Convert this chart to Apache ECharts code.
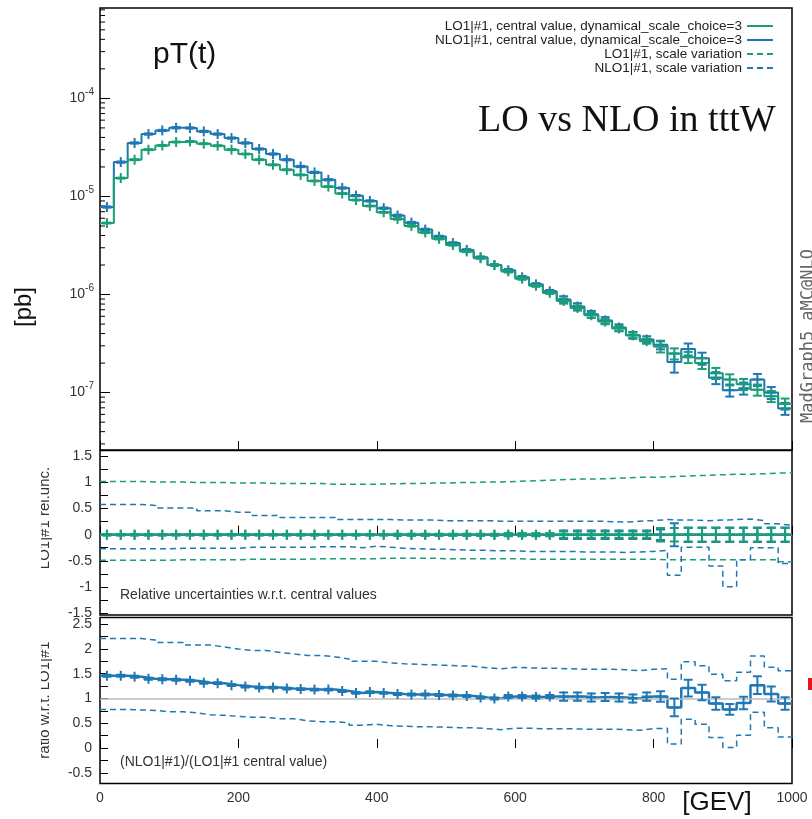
<!DOCTYPE html>
<html><head><meta charset="utf-8">
<script src="https://cdn.jsdelivr.net/npm/echarts@6/dist/echarts.min.js"></script>
<style>html,body{margin:0;padding:0;background:#fff}#chart{width:812px;height:819px}</style>
</head><body><div id="chart"></div>
<script>
// ---- data ----
const binEdges = [0,20,40,60,80,100,120,140,160,180,200,220,240,260,280,300,320,340,360,380,400,420,440,460,480,500,520,540,560,580,600,620,640,660,680,700,720,740,760,780,800,820,840,860,880,900,920,940,960,980,1000];
const binCenters = [10,30,50,70,90,110,130,150,170,190,210,230,250,270,290,310,330,350,370,390,410,430,450,470,490,510,530,550,570,590,610,630,650,670,690,710,730,750,770,790,810,830,850,870,890,910,930,950,970,990];

const loCentral = [5.36e-6,1.54e-5,2.37e-5,3.0e-5,3.31e-5,3.59e-5,3.64e-5,3.45e-5,3.29e-5,3.0e-5,
  2.71e-5,2.37e-5,2.1e-5,1.87e-5,1.66e-5,1.44e-5,1.26e-5,1.07e-5,9.2e-6,8.0e-6,
  6.9e-6,5.9e-6,5.0e-6,4.3e-6,3.7e-6,3.2e-6,2.75e-6,2.35e-6,2.0e-6,1.72e-6,
  1.45e-6,1.23e-6,1.04e-6,8.6e-7,7.3e-7,6.15e-7,5.3e-7,4.5e-7,3.85e-7,3.35e-7,
  2.95e-7,2.5e-7,2.3e-7,2.0e-7,1.58e-7,1.36e-7,1.22e-7,1.07e-7,9.2e-8,7.7e-8];
const nloCentral = [7.8e-6,2.24e-5,3.51e-5,4.33e-5,4.71e-5,5.02e-5,4.99e-5,4.61e-5,4.33e-5,3.94e-5,
  3.51e-5,3.05e-5,2.71e-5,2.37e-5,2.02e-5,1.76e-5,1.48e-5,1.22e-5,1.02e-5,9.0e-6,
  7.6e-6,6.4e-6,5.4e-6,4.6e-6,3.9e-6,3.35e-6,2.85e-6,2.4e-6,2.0e-6,1.77e-6,
  1.5e-6,1.27e-6,1.08e-6,8.9e-7,7.55e-7,6.3e-7,5.45e-7,4.6e-7,3.85e-7,3.48e-7,
  3.07e-7,2.05e-7,2.78e-7,2.24e-7,1.42e-7,1.06e-7,1.11e-7,1.36e-7,1.0e-7,6.9e-8];
const loRelErr = [0.01,0.01,0.01,0.01,0.01,0.01,0.01,0.01,0.01,0.01,
  0.01,0.01,0.01,0.01,0.01,0.01,0.01,0.01,0.01,0.01,
  0.01,0.015,0.015,0.015,0.015,0.015,0.015,0.015,0.015,0.025,
  0.025,0.025,0.025,0.06,0.06,0.06,0.06,0.06,0.06,0.06,
  0.13,0.13,0.13,0.13,0.13,0.13,0.13,0.13,0.13,0.13];
const nloRelErr = [0.015,0.015,0.015,0.015,0.015,0.015,0.015,0.015,0.015,0.015,
  0.015,0.015,0.015,0.015,0.015,0.015,0.015,0.015,0.015,0.015,
  0.015,0.02,0.02,0.02,0.02,0.02,0.02,0.02,0.02,0.03,
  0.03,0.03,0.03,0.08,0.08,0.08,0.08,0.08,0.08,0.08,
  0.1,0.22,0.14,0.14,0.14,0.14,0.14,0.14,0.14,0.14];
// middle panel: relative scale variation
const loRelUp = [1.02,1.02,1.02,1.01,1.01,1.01,1.0,1.0,1.0,0.99,
  0.99,0.99,0.98,0.98,0.98,0.98,0.97,0.97,0.97,0.97,
  0.975,0.98,0.98,0.99,0.99,1.0,1.0,1.01,1.01,1.02,
  1.03,1.04,1.05,1.06,1.07,1.07,1.08,1.09,1.1,1.1,
  1.11,1.12,1.13,1.14,1.15,1.16,1.16,1.17,1.18,1.19];
const loRelDn = [-0.49,-0.49,-0.49,-0.49,-0.49,-0.48,-0.48,-0.48,-0.48,-0.48,
  -0.47,-0.47,-0.47,-0.47,-0.47,-0.46,-0.46,-0.46,-0.46,-0.46,
  -0.45,-0.45,-0.45,-0.45,-0.46,-0.46,-0.46,-0.46,-0.46,-0.46,
  -0.47,-0.47,-0.47,-0.47,-0.47,-0.47,-0.47,-0.47,-0.47,-0.47,
  -0.48,-0.48,-0.48,-0.48,-0.48,-0.48,-0.48,-0.48,-0.48,-0.52];
const nloRelUp = [0.58,0.58,0.58,0.56,0.51,0.51,0.51,0.46,0.46,0.43,
  0.43,0.37,0.37,0.33,0.33,0.33,0.33,0.29,0.29,0.29,
  0.29,0.28,0.28,0.28,0.27,0.27,0.27,0.27,0.26,0.26,
  0.26,0.26,0.26,0.26,0.26,0.26,0.25,0.24,0.26,0.27,
  0.29,0.28,0.28,0.27,0.28,0.29,0.3,0.27,0.21,0.18];
const nloRelDn = [-0.27,-0.27,-0.27,-0.27,-0.27,-0.26,-0.26,-0.26,-0.26,-0.26,
  -0.24,-0.24,-0.24,-0.24,-0.24,-0.23,-0.23,-0.23,-0.25,-0.22,
  -0.24,-0.26,-0.27,-0.28,-0.28,-0.29,-0.3,-0.3,-0.31,-0.31,
  -0.32,-0.32,-0.32,-0.32,-0.33,-0.33,-0.33,-0.34,-0.33,-0.32,
  -0.3,-0.78,-0.24,-0.24,-0.6,-1.0,-0.48,-0.25,-0.25,-0.55];
// bottom panel: ratio to LO central
const ratioCentral = [1.46,1.46,1.44,1.40,1.39,1.38,1.36,1.32,1.31,1.27,
  1.24,1.22,1.22,1.20,1.19,1.18,1.18,1.15,1.11,1.13,
  1.11,1.09,1.08,1.08,1.07,1.06,1.05,1.02,1.00,1.04,
  1.04,1.03,1.04,1.04,1.04,1.02,1.03,1.02,1.00,1.04,
  1.04,0.82,1.21,1.12,0.90,0.78,0.91,1.27,1.09,0.90];
const ratioUp = [2.21,2.21,2.21,2.18,2.13,2.13,2.08,2.08,2.04,2.00,
  1.97,1.97,1.93,1.90,1.87,1.87,1.84,1.80,1.75,1.75,
  1.72,1.70,1.69,1.68,1.67,1.66,1.65,1.62,1.60,1.63,
  1.62,1.61,1.61,1.60,1.59,1.59,1.59,1.58,1.56,1.59,
  1.60,1.39,1.74,1.66,1.49,1.36,1.53,1.86,1.63,1.56];
const ratioDn = [0.78,0.78,0.77,0.76,0.73,0.73,0.71,0.67,0.66,0.64,
  0.62,0.62,0.59,0.59,0.55,0.53,0.53,0.51,0.46,0.48,
  0.45,0.44,0.43,0.43,0.42,0.41,0.41,0.39,0.37,0.40,
  0.40,0.39,0.39,0.39,0.38,0.38,0.38,0.37,0.36,0.39,
  0.40,0.08,0.58,0.48,0.21,0.01,0.26,0.72,0.41,0.22];
const logMinorTickValues = [3e-8,4e-8,5e-8,6e-8,7e-8,8e-8,9e-8,
  2e-7,3e-7,4e-7,5e-7,6e-7,7e-7,8e-7,9e-7,
  2e-6,3e-6,4e-6,5e-6,6e-6,7e-6,8e-6,9e-6,
  2e-5,3e-5,4e-5,5e-5,6e-5,7e-5,8e-5,9e-5,
  2e-4,3e-4,4e-4,5e-4,6e-4,7e-4,8e-4];

const NAME_LO = 'LO1|#1, central value, dynamical_scale_choice=3';
const NAME_NLO = 'NLO1|#1, central value, dynamical_scale_choice=3';
const NAME_LO_SV = 'LO1|#1, scale variation';
const NAME_NLO_SV = 'NLO1|#1, scale variation';
const GREEN = '#1b9e77', BLUE = '#1f78b4';
const FONT = '"Liberation Sans", Arial, sans-serif';

// ---- helpers ----
function steps(vals){
  const d = vals.map((v,i)=>[binEdges[i], v]);
  d.push([binEdges[vals.length], vals[vals.length-1]]);
  return d;
}
function errRel(vals, rel){ return vals.map((v,i)=>[binCenters[i], v, v*(1-rel[i]), v*(1+rel[i])]); }
function errAbs(vals, e){ return vals.map((v,i)=>[binCenters[i], v, v-e[i], v+e[i]]); }
function renderErr(params, api){
  const x = api.value(0);
  const c = api.coord([x, api.value(1)]);
  const lo = api.coord([x, api.value(2)]);
  const hi = api.coord([x, api.value(3)]);
  const st = {stroke: api.visual('color'), lineWidth: 2};
  const half = 5, cap = 4.5;
  const yTop = Math.min(hi[1], c[1]-half), yBot = Math.max(lo[1], c[1]+half);
  return {type:'group', children:[
    {type:'line', shape:{x1:c[0], y1:yTop, x2:c[0], y2:yBot}, style:st},
    {type:'line', shape:{x1:c[0]-half, y1:c[1], x2:c[0]+half, y2:c[1]}, style:st},
    {type:'line', shape:{x1:c[0]-cap, y1:hi[1], x2:c[0]+cap, y2:hi[1]}, style:st},
    {type:'line', shape:{x1:c[0]-cap, y1:lo[1], x2:c[0]+cap, y2:lo[1]}, style:st}
  ]};
}
function stepSeries(name, vals, color, xi, dashed, width, z){
  return {type:'line', name, xAxisIndex:xi, yAxisIndex:xi, data:steps(vals), step:'end',
    symbol:'none', showSymbol:false, silent:true, z:z||2,
    itemStyle:{color}, lineStyle:{color, width:width||2, type: dashed ? [6,4] : 'solid'}};
}
function errSeries(data, color, xi, z){
  return {type:'custom', xAxisIndex:xi, yAxisIndex:xi, data, renderItem:renderErr, clip:true,
    silent:true, z:z||3, itemStyle:{color}, encode:{x:0, y:[1,2,3]}};
}

const grids = [
  {left:100, right:20, top:8, height:442},
  {left:100, right:20, top:450.5, height:164.5},
  {left:100, right:20, top:617.5, height:166}
].map(g=>Object.assign(g, {show:true, borderColor:'#000', borderWidth:1.5, backgroundColor:'transparent', containLabel:false}));

function xAxis(gi, labels){
  return {type:'value', gridIndex:gi, min:0, max:1000, interval:200,
    axisLine:{show:false}, splitLine:{show:false},
    axisTick:{show:true, inside:true, length:9, lineStyle:{color:'#000', width:1}},
    axisLabel:{show:labels, color:'#333', fontSize:14, fontFamily:FONT, margin:8, formatter: v => String(v)}};
}
function halfFmt(v){
  const r = Math.round(v*2);
  if (Math.abs(v*2 - r) > 1e-6) return '';
  return String(r/2);
}
const yAxes = [
  {type:'log', gridIndex:0, logBase:10, min:2.6e-8, max:8.35e-4,
    axisLine:{show:false}, splitLine:{show:false}, minorTick:{show:false},
    axisTick:{show:true, inside:true, length:10, lineStyle:{color:'#000', width:1}},
    axisLabel:{showMinLabel:false, showMaxLabel:false, margin:6, color:'#333', fontFamily:FONT,
      formatter: v => { const e = Math.log10(v); const r = Math.round(e); if (Math.abs(e-r) > 1e-6) return ''; return '{b|10}{s|' + r + '}'; },
      rich:{ b:{fontSize:14, fontFamily:FONT, color:'#333', lineHeight:14, verticalAlign:'bottom'},
             s:{fontSize:10, fontFamily:FONT, color:'#333', lineHeight:10, padding:[0,0,8,0], verticalAlign:'bottom'} }}},
  {type:'value', gridIndex:1, min:-1.54, max:1.615, minInterval:0.25, maxInterval:0.25,
    axisLine:{show:false}, splitLine:{show:false},
    axisTick:{show:true, inside:true, length:8, lineStyle:{color:'#000', width:1}},
    axisLabel:{formatter:halfFmt, showMinLabel:false, showMaxLabel:false, margin:8, color:'#333', fontSize:14, fontFamily:FONT}},
  {type:'value', gridIndex:2, min:-0.717, max:2.636, minInterval:0.25, maxInterval:0.25,
    axisLine:{show:false}, splitLine:{show:false},
    axisTick:{show:true, inside:true, length:8, lineStyle:{color:'#000', width:1}},
    axisLabel:{formatter:halfFmt, showMinLabel:false, showMaxLabel:false, margin:8, color:'#333', fontSize:14, fontFamily:FONT}}
];

const relZero = binCenters.map(()=>0);
const series = [
  // top panel minor log ticks
  {type:'custom', xAxisIndex:0, yAxisIndex:0, silent:true, clip:false, z:1,
    data: logMinorTickValues.map(v=>[0, v]), encode:{x:0, y:1},
    renderItem:(p, api)=>{ const c = api.coord([api.value(0), api.value(1)]);
      return {type:'line', shape:{x1:c[0], y1:c[1], x2:c[0]+5, y2:c[1]}, style:{stroke:'#000', lineWidth:1}}; }},
  // top panel
  stepSeries(NAME_NLO, nloCentral, BLUE, 0, false, 2, 2),
  errSeries(errRel(nloCentral, nloRelErr), BLUE, 0, 3),
  stepSeries(NAME_LO, loCentral, GREEN, 0, false, 2, 4),
  errSeries(errRel(loCentral, loRelErr), GREEN, 0, 5),
  // middle panel
  stepSeries(NAME_LO_SV, loRelUp, GREEN, 1, true, 1.5, 2),
  stepSeries(NAME_LO_SV, loRelDn, GREEN, 1, true, 1.5, 2),
  stepSeries(NAME_NLO_SV, nloRelUp, BLUE, 1, true, 1.5, 2),
  stepSeries(NAME_NLO_SV, nloRelDn, BLUE, 1, true, 1.5, 2),
  stepSeries('nlo-rel-central', relZero, BLUE, 1, false, 2.5, 3),
  errSeries(errAbs(relZero, nloRelErr), BLUE, 1, 3),
  stepSeries('lo-rel-central', relZero, GREEN, 1, false, 2.5, 4),
  errSeries(errAbs(relZero, loRelErr), GREEN, 1, 5),
  // bottom panel
  Object.assign(stepSeries(NAME_NLO_SV, ratioUp, BLUE, 2, true, 1.5, 2), {
    markLine:{silent:true, symbol:'none', label:{show:false}, animation:false,
      lineStyle:{color:'#bbbbbb', width:1.5, type:'solid'}, data:[{yAxis:1}]}}),
  stepSeries(NAME_NLO_SV, ratioDn, BLUE, 2, true, 1.5, 2),
  stepSeries('ratio-central', ratioCentral, BLUE, 2, false, 2.5, 4),
  errSeries(errRel(ratioCentral, nloRelErr), BLUE, 2, 5)
];

const option = {
  animation:false,
  backgroundColor:'#fff',
  grid: grids,
  xAxis: [xAxis(0,false), xAxis(1,false), xAxis(2,true)],
  yAxis: yAxes,
  legend:{data:[NAME_LO, NAME_NLO, NAME_LO_SV, NAME_NLO_SV], orient:'vertical', right:33, top:14,
    align:'right', itemWidth:26, itemHeight:10, itemGap:0, selectedMode:false,
    itemStyle:{opacity:0},
    textStyle:{fontSize:13.5, fontFamily:FONT, color:'#222', lineHeight:13.7}},
  series,
  graphic:[
    {type:'text', left:153, top:40, style:{text:'pT(t)', fill:'#111', font:'30px "Liberation Sans", Arial, sans-serif'}},
    {type:'text', x:478, y:121, style:{text:'LO vs NLO in tttW', fill:'#111', font:'38px "Liberation Serif", "Times New Roman", serif', align:'left', verticalAlign:'middle'}},
    {type:'text', x:24, y:307, rotation:Math.PI/2, style:{text:'[pb]', fill:'#111', font:'24px "Liberation Sans", Arial, sans-serif', align:'center', verticalAlign:'middle'}},
    {type:'text', x:45, y:518, rotation:Math.PI/2, style:{text:'LO1|#1 rel.unc.', fill:'#333', font:'15px "Liberation Sans", Arial, sans-serif', align:'center', verticalAlign:'middle'}},
    {type:'text', x:45, y:700, rotation:Math.PI/2, style:{text:'ratio w.r.t. LO1|#1', fill:'#333', font:'15px "Liberation Sans", Arial, sans-serif', align:'center', verticalAlign:'middle'}},
    {type:'rect', shape:{x:0, y:455, width:41, height:330}, style:{fill:'#fff'}, z:100},
    {type:'text', x:120, y:595, style:{text:'Relative uncertainties w.r.t. central values', fill:'#333', font:'14px "Liberation Sans", Arial, sans-serif', align:'left', verticalAlign:'middle'}},
    {type:'text', x:120, y:762, style:{text:'(NLO1|#1)/(LO1|#1 central value)', fill:'#333', font:'14px "Liberation Sans", Arial, sans-serif', align:'left', verticalAlign:'middle'}},
    {type:'text', x:717, y:803, style:{text:'[GEV]', fill:'#111', font:'26px "Liberation Sans", Arial, sans-serif', align:'center', verticalAlign:'middle'}},
    {type:'text', x:809, y:336, rotation:Math.PI/2, style:{text:'MadGraph5_aMC@NLO', fill:'#666', font:'17px "DejaVu Sans Mono", "Liberation Mono", monospace', align:'center', verticalAlign:'middle'}},
    {type:'rect', shape:{x:808, y:678, width:4, height:12}, style:{fill:'#e8141e'}}
  ]
};
const chart = echarts.init(document.getElementById('chart'), null, {renderer:'canvas'});
chart.setOption(option);
</script></body></html>
